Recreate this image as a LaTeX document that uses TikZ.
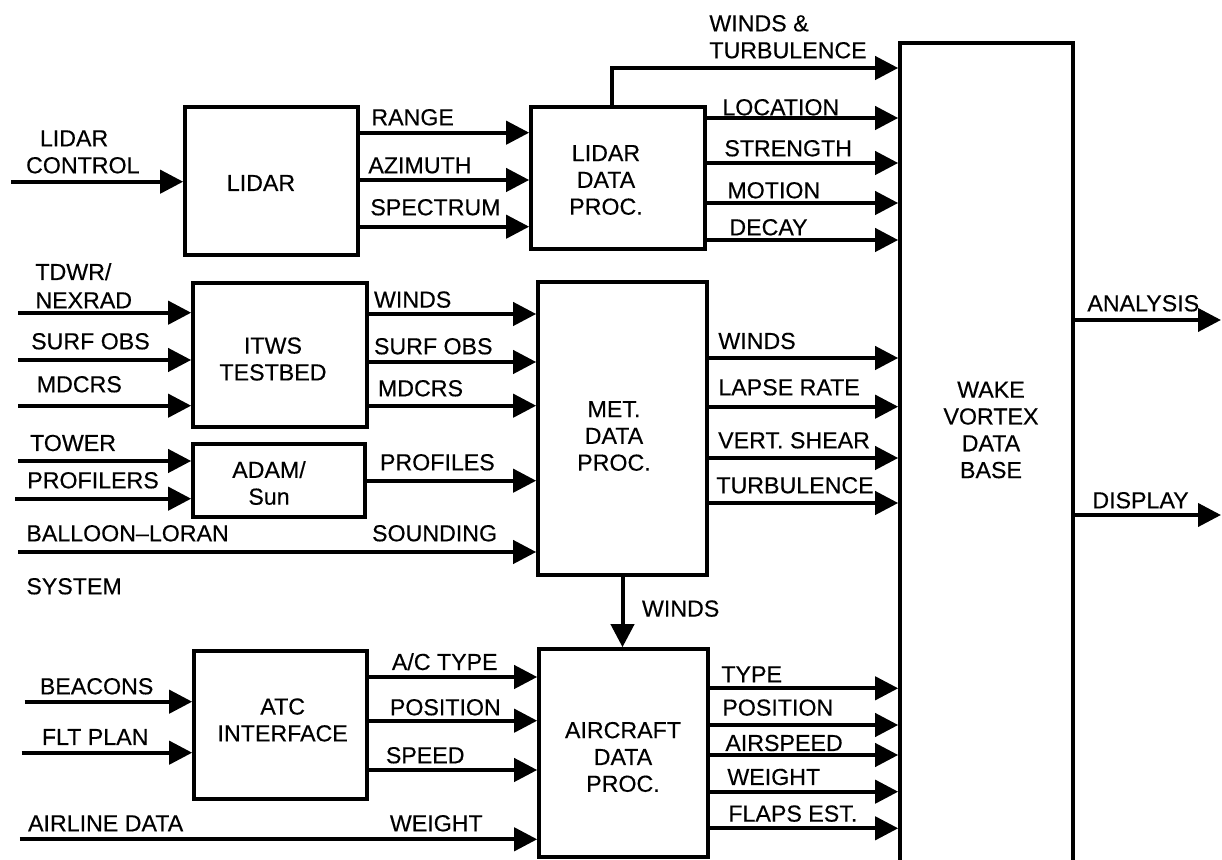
\documentclass[tikz,border=0pt]{standalone}
\usepackage{fontspec}
\setmainfont{Liberation Sans}
\newfontfamily\lblfont{Liberation Sans}[FakeBold=0.35,Ligatures=TeX]
\usetikzlibrary{arrows.meta}
\begin{document}
\begin{tikzpicture}[x=0.5pt,y=-0.5pt,
  every node/.style={font=\lblfont\fontsize{11.6pt}{13.4pt}\selectfont},
  box/.style={draw, line width=1.8pt, inner sep=0pt},
  txt/.style={align=center, inner sep=0pt},
  lbl/.style={anchor=west, inner sep=0pt, text height=8.3pt, text depth=0pt},
  arr/.style={line width=2pt, -{Triangle[length=11.5pt,width=11.5pt]}}]
\path[use as bounding box, fill=white] (0,0) rectangle (1222,860);

% boxes
\node[box, minimum width=86.5pt, minimum height=74pt] (lidar) at (271.5,181) {};
\node[box, minimum width=87pt, minimum height=71pt] (ldp) at (618,178) {};
\node[box, minimum width=87pt, minimum height=72pt] (itws) at (280,355) {};
\node[box, minimum width=86pt, minimum height=36.5pt] (adam) at (279,480.5) {};
\node[box, minimum width=84.5pt, minimum height=146.5pt] (met) at (622.5,428.5) {};
\node[box, minimum width=86.5pt, minimum height=74pt] (atc) at (280.5,725) {};
\node[box, minimum width=84.5pt, minimum height=104pt] (acdp) at (623.5,753) {};
\node[box, minimum width=86.5pt, minimum height=418.5pt] (wvdb) at (986.5,461.5) {};

% box texts
\node[txt] (lidarT) at (261,183) {LIDAR};
\node[txt] (ldpT) at (606,180) {LIDAR\\DATA\\PROC.};
\node[txt] (itwsT) at (273,359) {ITWS\\TESTBED};
\node[txt] (adamT) at (269,483) {ADAM/\\Sun};
\node[txt] (metT) at (614,436) {MET.\\DATA\\PROC.};
\node[txt] (atcT) at (282.7,720) {ATC\\INTERFACE};
\node[txt] (acdpT) at (623,757) {AIRCRAFT\\DATA\\PROC.};
\node[txt] (wvdbT) at (991,430) {WAKE\\VORTEX\\DATA\\BASE};

% free ends
\coordinate (iLC) at (11,181.7);
\coordinate (iTD) at (18,312.7);
\coordinate (iSO) at (18,360);
\coordinate (iMD) at (18,405.7);
\coordinate (iTO) at (18,461);
\coordinate (iPR) at (15,498.7);
\coordinate (iBL) at (18,552);
\coordinate (iBE) at (24.5,701.7);
\coordinate (iFP) at (21.7,752.7);
\coordinate (iAD) at (19.8,839.3);
\coordinate (oAN) at (1221,320);
\coordinate (oDI) at (1221,515);

% inputs
\draw[arr] (iLC) -- (lidar.west |- iLC);
\draw[arr] (iTD) -- (itws.west |- iTD);
\draw[arr] (iSO) -- (itws.west |- iSO);
\draw[arr] (iMD) -- (itws.west |- iMD);
\draw[arr] (iTO) -- (adam.west |- iTO);
\draw[arr] (iPR) -- (adam.west |- iPR);
\draw[arr] (iBL) -- (met.west |- iBL);
\draw[arr] (iBE) -- (atc.west |- iBE);
\draw[arr] (iFP) -- (atc.west |- iFP);
\draw[arr] (iAD) -- (acdp.west |- iAD);

% lidar -> ldp
\foreach \y in {132.7,180,226.7}
  \draw[arr] (lidar.east |- 0,\y) -- (ldp.west |- 0,\y);
% ldp -> wvdb
\foreach \y in {118,163,203,240}
  \draw[arr] (ldp.east |- 0,\y) -- (wvdb.west |- 0,\y);
\draw[arr] (ldp.north -| 612,0) -- (612,68) -- (wvdb.west |- 0,68);
% itws -> met
\foreach \y in {314,362,405.7}
  \draw[arr] (itws.east |- 0,\y) -- (met.west |- 0,\y);
\draw[arr] (adam.east |- 0,480.7) -- (met.west |- 0,480.7);
% met -> wvdb
\foreach \y in {358,406.7,458,503}
  \draw[arr] (met.east |- 0,\y) -- (wvdb.west |- 0,\y);
% met -> acdp
\draw[arr] (met.south -| 622.5,0) -- (acdp.north -| 622.5,0);
% atc -> acdp
\foreach \y in {677,720.7,770}
  \draw[arr] (atc.east |- 0,\y) -- (acdp.west |- 0,\y);
% acdp -> wvdb
\foreach \y in {688.3,725,755,791.7,828.3}
  \draw[arr] (acdp.east |- 0,\y) -- (wvdb.west |- 0,\y);
% outputs
\draw[arr] (wvdb.east |- oAN) -- (oAN);
\draw[arr] (wvdb.east |- oDI) -- (oDI);

% labels
\node[lbl] (l1) at (709,23) {WINDS \&};
\node[lbl] (l2) at (709,50) {TURBULENCE};
\node[lbl] (l3) at (39.5,138) {LIDAR};
\node[lbl] (l4) at (25.7,165) {CONTROL};
\node[lbl] (l5) at (371,117) {RANGE};
\node[lbl] (l6) at (368,165) {AZIMUTH};
\node[lbl] (l7) at (370,207) {SPECTRUM};
\node[lbl] (l8) at (722,107) {LOCATION};
\node[lbl] (l9) at (724,148) {STRENGTH};
\node[lbl] (l10) at (727,190) {MOTION};
\node[lbl] (l11) at (729,227) {DECAY};

\node[lbl] (m1) at (35,271.7) {TDWR/};
\node[lbl] (m2) at (35,300) {NEXRAD};
\node[lbl] (m3) at (30.8,341) {SURF OBS};
\node[lbl] (m4) at (36.4,384) {MDCRS};
\node[lbl] (m5) at (29.7,442.7) {TOWER};
\node[lbl] (m6) at (26.9,480) {PROFILERS};
\node[lbl] (m7) at (26,533) {BALLOON–LORAN};
\node[lbl] (m8) at (26,586) {SYSTEM};
\node[lbl] (m9) at (373.6,299.3) {WINDS};
\node[lbl] (m10) at (373.6,346) {SURF OBS};
\node[lbl] (m11) at (377.6,388) {MDCRS};
\node[lbl] (m12) at (379.6,462) {PROFILES};
\node[lbl] (m13) at (371.7,533) {SOUNDING};
\node[lbl] (m14) at (718,340.7) {WINDS};
\node[lbl] (m15) at (718,387) {LAPSE RATE};
\node[lbl] (m16) at (717.8,440) {VERT. SHEAR};
\node[lbl] (m17) at (716,485) {TURBULENCE};
\node[lbl] (m18) at (1087,303) {ANALYSIS};
\node[lbl] (m19) at (1092,500) {DISPLAY};
\node[lbl] (m20) at (641.6,608.3) {WINDS};

\node[lbl] (b1) at (39.5,686) {BEACONS};
\node[lbl] (b2) at (41.5,736.7) {FLT PLAN};
\node[lbl] (b3) at (27.7,823) {AIRLINE DATA};
\node[lbl] (b4) at (391.5,661.7) {A/C TYPE};
\node[lbl] (b5) at (389.5,707) {POSITION};
\node[lbl] (b6) at (385.5,755) {SPEED};
\node[lbl] (b7) at (389.5,823) {WEIGHT};
\node[lbl] (b8) at (721,674) {TYPE};
\node[lbl] (b9) at (722,707.3) {POSITION};
\node[lbl] (b10) at (725,742.7) {AIRSPEED};
\node[lbl] (b11) at (727,776.7) {WEIGHT};
\node[lbl] (b12) at (728,813.3) {FLAPS EST.};
\end{tikzpicture}
\end{document}
